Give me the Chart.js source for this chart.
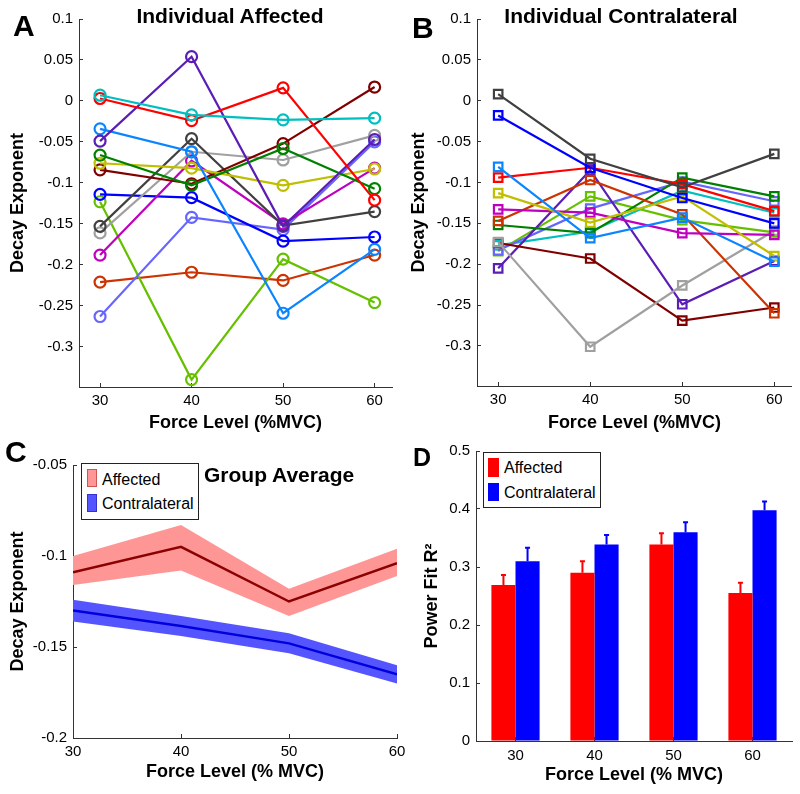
<!DOCTYPE html>
<html>
<head>
<meta charset="utf-8">
<script src="https://cdn.jsdelivr.net/npm/chart.js@4/dist/chart.umd.min.js"></script>
<style>
  body { margin: 0; width: 800px; height: 794px; position: relative; overflow: hidden; background: #fff;
         font-family: "Liberation Sans", Arial, sans-serif; color: #000; }
  canvas { position: absolute; }
  .txt { position: absolute; white-space: nowrap; font-weight: bold; }
  .letter { font-size: 30px; line-height: 30px; }
  .title { font-size: 21px; line-height: 21px; transform: translateX(-50%); }
  .legend { position: absolute; border: 1px solid #222; background: #fff; box-sizing: border-box; }
  .sw { position: absolute; box-sizing: border-box; }
  .ltxt { position: absolute; font-size: 16px; line-height: 16px; white-space: nowrap; }
</style>
</head>
<body>
<canvas id="chartA" width="400" height="440" style="left:0;top:0"></canvas>
<canvas id="chartB" width="400" height="440" style="left:400px;top:0"></canvas>
<canvas id="chartC" width="420" height="374" style="left:0;top:420px"></canvas>
<canvas id="chartD" width="400" height="374" style="left:400px;top:420px"></canvas>

<div class="txt letter" style="left:13px;top:11px">A</div>
<div class="txt letter" style="left:412px;top:13px">B</div>
<div class="txt letter" style="left:5px;top:437px">C</div>
<div class="txt letter" style="left:413px;top:445px;font-size:25px;line-height:25px">D</div>

<div class="txt title" style="left:230px;top:5px">Individual Affected</div>
<div class="txt title" style="left:621px;top:5px">Individual Contralateral</div>
<div class="txt title" style="left:280px;top:464px;transform:none;left:204px">Group Average</div>

<div class="legend" style="left:81px;top:463px;width:118px;height:57px"></div>
<div class="sw" style="left:87px;top:469px;width:10px;height:18px;background:rgb(255,150,150);border:1px solid #c55"></div>
<div class="sw" style="left:87px;top:494px;width:10px;height:18px;background:rgb(85,85,255);border:1px solid #33c"></div>
<div class="ltxt" style="left:102px;top:471.5px">Affected</div>
<div class="ltxt" style="left:102px;top:495.5px">Contralateral</div>

<div class="legend" style="left:483px;top:452px;width:118px;height:56px"></div>
<div class="sw" style="left:488px;top:458px;width:11px;height:19px;background:#ff0000"></div>
<div class="sw" style="left:488px;top:483px;width:11px;height:18px;background:#0000ff"></div>
<div class="ltxt" style="left:504px;top:460px">Affected</div>
<div class="ltxt" style="left:504px;top:485px">Contralateral</div>

<script>
// ---- data -------------------------------------------------------------------
const forceLevels = [30, 40, 50, 60];
const decayTicks  = [0.1, 0.05, 0, -0.05, -0.1, -0.15, -0.2, -0.25, -0.3];
const groupTicks  = [-0.05, -0.1, -0.15, -0.2];
const r2Ticks     = [0, 0.1, 0.2, 0.3, 0.4, 0.5];

// A: individual affected hands, one array per subject
const affCyan       = [0.007, -0.017, -0.023, -0.021];
const affRed        = [0.003, -0.024, 0.016, -0.121];
const affIndigo     = [-0.049, 0.054, -0.153, -0.047];
const affSky        = [-0.034, -0.062, -0.259, -0.181];
const affGreen      = [-0.066, -0.103, -0.058, -0.107];
const affOlive      = [-0.076, -0.082, -0.103, -0.083];
const affMaroon     = [-0.084, -0.101, -0.052, 0.017];
const affDarkGray   = [-0.153, -0.046, -0.152, -0.135];
const affGray       = [-0.161, -0.062, -0.072, -0.042];
const affMagenta    = [-0.188, -0.073, -0.150, -0.082];
const affBlue       = [-0.114, -0.118, -0.171, -0.166];
const affPeriwinkle = [-0.263, -0.142, -0.157, -0.050];
const affLime       = [-0.123, -0.340, -0.193, -0.246];
const affOrange     = [-0.221, -0.209, -0.219, -0.188];

// B: individual contralateral hands
const conDarkGray   = [0.008, -0.071, -0.106, -0.065];
const conBlue       = [-0.018, -0.082, -0.119, -0.150];
const conSky        = [-0.081, -0.168, -0.143, -0.197];
const conRed        = [-0.094, -0.082, -0.102, -0.135];
const conOlive      = [-0.113, -0.149, -0.117, -0.190];
const conMagenta    = [-0.133, -0.137, -0.162, -0.164];
const conOrange     = [-0.147, -0.097, -0.139, -0.260];
const conGreen      = [-0.152, -0.162, -0.094, -0.117];
const conGray       = [-0.173, -0.301, -0.226, -0.159];
const conMaroon     = [-0.174, -0.193, -0.269, -0.253];
const conIndigo     = [-0.205, -0.085, -0.249, -0.196];
const conPeriwinkle = [-0.183, -0.132, -0.099, -0.123];
const conLime       = [-0.184, -0.117, -0.146, -0.161];
const conCyan       = [-0.177, -0.160, -0.110, -0.137];

// C: group average with shaded spread
const groupAffMean = [-0.109, -0.095, -0.125, -0.104];
const groupAffUp   = [-0.100, -0.083, -0.118, -0.096];
const groupAffLow  = [-0.116, -0.108, -0.133, -0.111];
const groupConMean = [-0.130, -0.1385, -0.148, -0.165];
const groupConUp   = [-0.124, -0.133, -0.1425, -0.160];
const groupConLow  = [-0.136, -0.144, -0.1535, -0.170];

// D: power fit R^2
const r2Categories = ['30', '40', '50', '60'];
const r2Affected   = [0.269, 0.290, 0.339, 0.255];
const r2AffErr     = [0.017, 0.020, 0.019, 0.018];
const r2Contra     = [0.310, 0.339, 0.360, 0.398];
const r2ConErr     = [0.023, 0.016, 0.017, 0.015];

// ---- setup ------------------------------------------------------------------
Chart.defaults.font.family = '"Liberation Sans", Arial, sans-serif';
Chart.defaults.font.size = 15;
Chart.defaults.color = '#000';

const AXIS = '#333';
const pts = (ys) => forceLevels.map((x, i) => ({ x, y: ys[i] }));
const fixedTicks = (vals) => (scale) => { scale.ticks = vals.map((v) => ({ value: v })); };

function axisX(opts) {
  return {
    type: 'linear', min: opts.min, max: opts.max,
    afterBuildTicks: fixedTicks(forceLevels),
    afterFit: (s) => { s.height = opts.h; },
    grid: { drawOnChartArea: false, tickLength: -4, color: AXIS },
    border: { color: AXIS, width: 1 },
    ticks: { padding: 9, autoSkip: false, maxRotation: 0, callback: (v) => String(v) },
    title: { display: true, text: opts.title, font: { size: 18, weight: 'bold' }, padding: { top: 0, bottom: opts.tpad } },
  };
}

function axisY(opts) {
  return {
    min: opts.min, max: opts.max,
    afterBuildTicks: fixedTicks(opts.ticks),
    afterFit: (s) => { s.width = opts.w; },
    grid: { drawOnChartArea: false, tickLength: -4, color: AXIS },
    border: { color: AXIS, width: 1 },
    ticks: { padding: 10, autoSkip: false, callback: (v) => String(v) },
    title: { display: true, text: opts.title, font: { size: 18, weight: 'bold' }, padding: { top: opts.tpad, bottom: 0 } },
  };
}

const baseOptions = (pad) => ({
  responsive: false, animation: false, devicePixelRatio: 1,
  layout: { padding: pad },
  plugins: { legend: { display: false }, tooltip: { enabled: false } },
});

function individualChart(id, series, pointStyle, radius, yW, xH, ytpad) {
  new Chart(document.getElementById(id), {
    type: 'line',
    data: {
      datasets: series.map(([ys, color]) => ({
        data: pts(ys), borderColor: color, borderWidth: 2.2,
        pointStyle, pointRadius: radius, pointBorderWidth: 2.2,
        pointBorderColor: color, pointBackgroundColor: 'rgba(0,0,0,0)',
      })),
    },
    options: {
      ...baseOptions({ top: 13, right: 8, left: 0, bottom: 0 }),
      scales: {
        x: axisX({ min: 27.7, max: 61.9, h: xH, title: 'Force Level (%MVC)', tpad: 6 }),
        y: axisY({ min: -0.349, max: 0.1, ticks: decayTicks, w: yW, title: 'Decay Exponent', tpad: ytpad }),
      },
    },
  });
}

individualChart('chartA', [
  [affCyan, '#00bfbf'], [affRed, '#ff0000'], [affIndigo, '#5a1db5'], [affSky, '#0a84ff'],
  [affGreen, '#008000'], [affOlive, '#bfbf00'], [affMaroon, '#800000'], [affDarkGray, '#404040'],
  [affGray, '#a0a0a0'], [affMagenta, '#bf00bf'], [affBlue, '#0000ff'], [affPeriwinkle, '#6666ff'],
  [affLime, '#66c000'], [affOrange, '#cc3300'],
], 'circle', 5.5, 79, 53, 7);

individualChart('chartB', [
  [conDarkGray, '#404040'], [conBlue, '#0000ff'], [conSky, '#0a84ff'], [conRed, '#ff0000'],
  [conOlive, '#bfbf00'], [conMagenta, '#bf00bf'], [conOrange, '#cc3300'], [conGreen, '#008000'],
  [conGray, '#a0a0a0'], [conMaroon, '#800000'], [conIndigo, '#5a1db5'], [conPeriwinkle, '#6666ff'],
  [conLime, '#66c000'], [conCyan, '#00bfbf'],
], 'rect', 6, 77, 54, 8);

// ---- C: group average ---------------------------------------------------------
const band = (ys, fill, bg) => ({
  data: pts(ys), borderWidth: 0, pointRadius: 0, fill, backgroundColor: bg, borderColor: 'rgba(0,0,0,0)',
});

new Chart(document.getElementById('chartC'), {
  type: 'line',
  data: {
    datasets: [
      { data: pts(groupAffMean), borderColor: '#8b0000', borderWidth: 2.5, pointRadius: 0, fill: false },
      { data: pts(groupConMean), borderColor: '#0000dd', borderWidth: 2.5, pointRadius: 0, fill: false },
      band(groupAffUp, false, 'rgb(255,150,150)'),
      band(groupAffLow, '-1', 'rgb(255,150,150)'),
      band(groupConUp, false, 'rgb(85,85,255)'),
      band(groupConLow, '-1', 'rgb(85,85,255)'),
    ],
  },
  options: {
    ...baseOptions({ top: 45, right: 23, left: 0, bottom: 0 }),
    scales: {
      x: axisX({ min: 30, max: 60, h: 56, title: 'Force Level (% MVC)', tpad: 11 }),
      y: axisY({ min: -0.2, max: -0.05, ticks: groupTicks, w: 73, title: 'Decay Exponent', tpad: 7 }),
    },
  },
});

// ---- D: power fit bars ------------------------------------------------------------
const errorBars = {
  id: 'errorBars',
  afterDatasetsDraw(chart) {
    const { ctx } = chart;
    const y = chart.scales.y;
    chart.data.datasets.forEach((ds, i) => {
      chart.getDatasetMeta(i).data.forEach((bar, j) => {
        const top = y.getPixelForValue(ds.data[j] + ds.errors[j]);
        ctx.save();
        ctx.strokeStyle = ds.backgroundColor;
        ctx.lineWidth = 2;
        ctx.beginPath();
        ctx.moveTo(bar.x, bar.y);
        ctx.lineTo(bar.x, top);
        ctx.moveTo(bar.x - 2.5, top);
        ctx.lineTo(bar.x + 2.5, top);
        ctx.stroke();
        ctx.restore();
      });
    });
  },
};

new Chart(document.getElementById('chartD'), {
  type: 'bar',
  data: {
    labels: r2Categories,
    datasets: [
      { data: r2Affected, errors: r2AffErr, backgroundColor: '#ff0000', categoryPercentage: 0.61, barPercentage: 1 },
      { data: r2Contra, errors: r2ConErr, backgroundColor: '#0000ff', categoryPercentage: 0.61, barPercentage: 1 },
    ],
  },
  options: {
    ...baseOptions({ top: 31, right: 8, left: 0, bottom: 0 }),
    scales: {
      x: {
        type: 'category', offset: true,
        afterFit: (s) => { s.height = 53; },
        grid: { drawOnChartArea: false, tickLength: -4, color: AXIS, offset: false },
        border: { color: AXIS, width: 1 },
        ticks: { padding: 10 },
        title: { display: true, text: 'Force Level (% MVC)', font: { size: 18, weight: 'bold' }, padding: { top: 0, bottom: 8 } },
      },
      y: axisY({ min: 0, max: 0.5, ticks: r2Ticks, w: 76, title: 'Power Fit R²', tpad: 21 }),
    },
  },
  plugins: [errorBars],
});
</script>
</body>
</html>
